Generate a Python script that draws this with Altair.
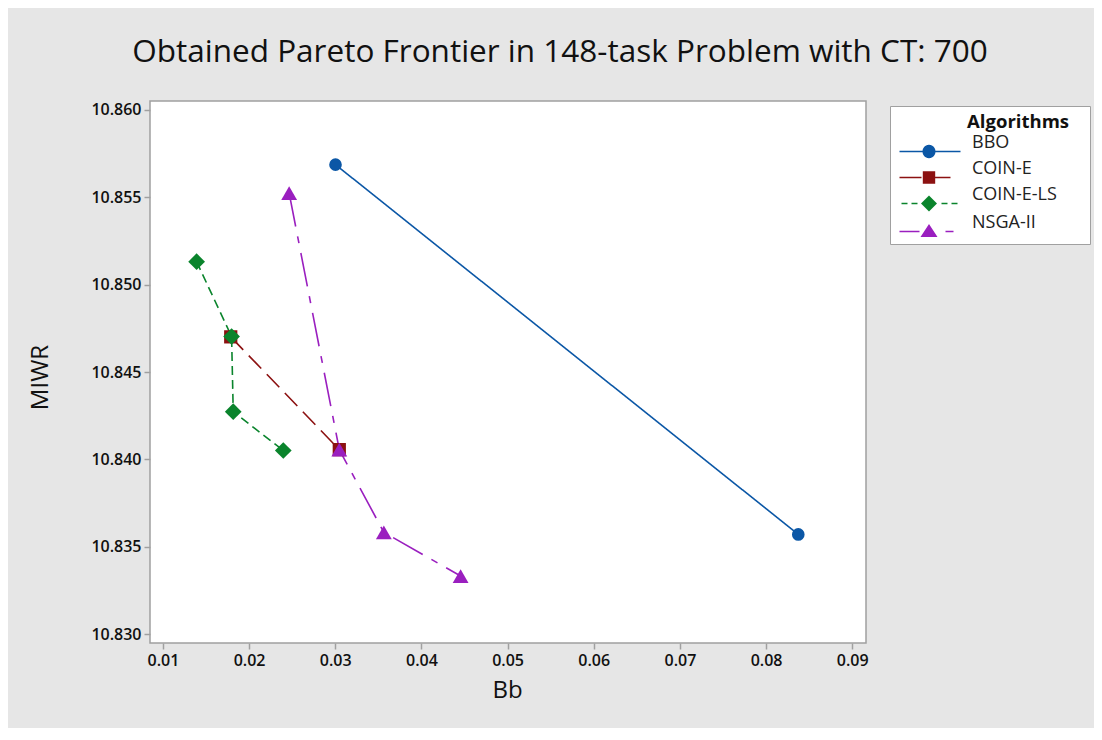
import altair as alt
import pandas as pd

# ---------------- data ----------------
algs = ["BBO", "COIN-E", "COIN-E-LS", "NSGA-II"]
bbo_x = [0.03003, 0.08374]
bbo_y = [10.85686, 10.83571]
coin_e_x = [0.01787, 0.03047]
coin_e_y = [10.84701, 10.84056]
coin_e_ls_x = [0.01391, 0.01797, 0.01816, 0.02397]
coin_e_ls_y = [10.85131, 10.84703, 10.84273, 10.84051]
nsga_x = [0.02465, 0.03047, 0.03564, 0.04455]
nsga_y = [10.85523, 10.84056, 10.83583, 10.83333]
x_ticks = [0.01, 0.02, 0.03, 0.04, 0.05, 0.06, 0.07, 0.08, 0.09]
y_ticks = [10.830, 10.835, 10.840, 10.845, 10.850, 10.855, 10.860]

series = {
    "BBO": (bbo_x, bbo_y),
    "COIN-E": (coin_e_x, coin_e_y),
    "COIN-E-LS": (coin_e_ls_x, coin_e_ls_y),
    "NSGA-II": (nsga_x, nsga_y),
}

# ---------------- styles ----------------
colors = ["#0b57a6", "#8c1111", "#0a842c", "#9a1fbf"]
dashes = [[1, 0], [18, 8], [9, 5], [34, 10, 7, 10]]
shapes = ["circle", "square", "diamond", "triangle-up"]
marker_size = {"BBO": 160, "COIN-E": 175, "COIN-E-LS": 280, "NSGA-II": 250}

rows = []
for a in algs:
    xs, ys = series[a]
    for i, (xv, yv) in enumerate(zip(xs, ys)):
        rows.append({"alg": a, "Bb": xv, "MIWR": yv, "idx": i, "sz": marker_size[a]})
df = pd.DataFrame(rows)

# legend symbols: line + marker drawn as filled custom paths (px -> unit coords)
S = 7.5   # px per unit (symbol size 225)
C = 7.5   # symbol centre, px from left of legend content


def u(px):
    return (px - C) / S


def rect(x0, x1, t=0.8):
    return f"M{u(x0):.3f},{-t / S:.3f}H{u(x1):.3f}V{t / S:.3f}H{u(x0):.3f}Z"


def circle(cx, r):
    return (f"M{u(cx + r):.3f},0A{r / S:.3f},{r / S:.3f} 0 1 1 {u(cx - r):.3f},0"
            f"A{r / S:.3f},{r / S:.3f} 0 1 1 {u(cx + r):.3f},0Z")


def square(cx, h):
    return f"M{u(cx - h):.3f},{-h / S:.3f}H{u(cx + h):.3f}V{h / S:.3f}H{u(cx - h):.3f}Z"


def diamond(cx, h):
    return (f"M{u(cx):.3f},{-h / S:.3f}L{u(cx + h):.3f},0L{u(cx):.3f},{h / S:.3f}"
            f"L{u(cx - h):.3f},0Z")


def triangle(cx, w, top, bot):
    return (f"M{u(cx):.3f},{top / S:.3f}L{u(cx + w):.3f},{bot / S:.3f}"
            f"L{u(cx - w):.3f},{bot / S:.3f}Z")


MC = 30.5
legend_paths = [
    rect(1, 62) + circle(MC, 6.5),
    rect(1, 23) + rect(25, 52) + square(MC, 6.2),
    rect(3, 9) + rect(13, 19) + rect(43, 49) + rect(53, 59) + diamond(MC, 8),
    rect(1, 21) + rect(47, 55) + triangle(MC, 8.5, -7.5, 5.5),
]

FONT = "Open Sans"
x_enc = alt.X("Bb:Q", title="Bb",
              scale=alt.Scale(domain=[0.0085, 0.0916], nice=False, zero=False),
              axis=alt.Axis(values=x_ticks, format=".2f", titleX=357, titleY=47,
                            titleBaseline="middle", titleAlign="center"))
y_enc = alt.Y("MIWR:Q", title="MIWR",
              scale=alt.Scale(domain=[10.8295, 10.8605], nice=False, zero=False),
              axis=alt.Axis(values=y_ticks, format=".3f", titleX=-110, titleY=276,
                            titleBaseline="middle", titleAlign="center", titleAngle=-90))

lines = alt.Chart(df).mark_line(strokeWidth=1.6).encode(
    x=x_enc, y=y_enc,
    color=alt.Color("alg:N", scale=alt.Scale(domain=algs, range=colors), legend=None),
    strokeDash=alt.StrokeDash("alg:N", scale=alt.Scale(domain=algs, range=dashes), legend=None),
    order="idx:Q",
)

points = alt.Chart(df).mark_point(filled=True, opacity=1, strokeWidth=0).encode(
    x=x_enc, y=y_enc,
    color=alt.Color("alg:N", scale=alt.Scale(domain=algs, range=colors), legend=None),
    shape=alt.Shape("alg:N", scale=alt.Scale(domain=algs, range=shapes), legend=None),
    size=alt.Size("sz:Q", scale=None),
)

blank = "\u2800"
leg = dict(
    title="Algorithms" + blank, orient="none", legendX=740, legendY=5,
    fillColor="white", strokeColor="#a0a0a0", padding=7,
    symbolSize=225, symbolStrokeWidth=0, labelOffset=57,
    labelBaseline="bottom", labelFont=FONT, labelFontSize=18, labelColor="#222222",
    titleFont=FONT, titleFontSize=18.5, titleFontWeight="bold", titleColor="#111111",
    titleAnchor="end", titlePadding=11, rowPadding=1,
    labelExpr="datum.label + '" + blank * 2 + "'",
)

# legend-only layer: no rows drawn, entries come from the explicit scale domains
legend_layer = alt.Chart(df).transform_filter("false").mark_point(
    filled=True, opacity=1, size=225
).encode(
    x=x_enc, y=y_enc,
    color=alt.Color("alg:N", scale=alt.Scale(domain=algs, range=colors), legend=alt.Legend(**leg)),
    shape=alt.Shape("alg:N", scale=alt.Scale(domain=algs, range=legend_paths), legend=alt.Legend(**leg)),
)

chart = alt.layer(lines, points, legend_layer).resolve_scale(
    color="independent", shape="independent"
).properties(
    width=716, height=542,
    title=alt.TitleParams("Obtained Pareto Frontier in 148-task Problem with CT: 700",
                          font=FONT, fontSize=31.5, fontWeight="normal", color="#111111",
                          anchor="middle", dx=52, offset=33),
    autosize=alt.AutoSizeParams(type="none"),
    padding={"left": 142, "top": 93, "right": 228, "bottom": 85},
    background="#e6e6e6",
).configure_view(
    fill="white", stroke="#a0a0a0", strokeWidth=1.5
).configure_axis(
    grid=False, domain=False, ticks=True, tickColor="#a0a0a0", tickWidth=1.5, tickSize=6,
    labelFont=FONT, labelFontSize=16, labelFontWeight=600, labelColor="#111111",
    labelPadding=3, titleFont=FONT, titleFontSize=24, titleFontWeight="normal",
    titleColor="#111111",
)

chart.save("out.html", embed_options={"renderer": "svg", "actions": False})
